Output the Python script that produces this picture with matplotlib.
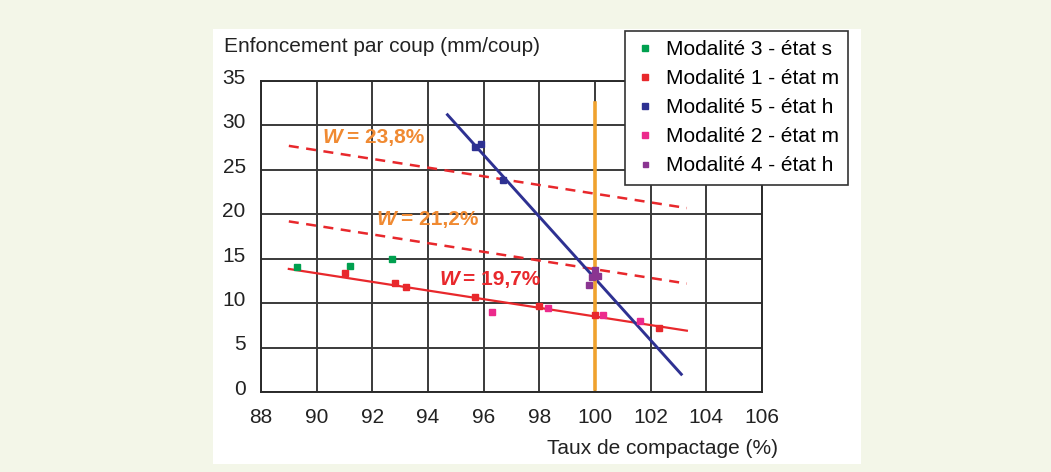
import matplotlib.pyplot as plt
from matplotlib.patches import Rectangle
from matplotlib.transforms import ScaledTranslation

plt.rcParams['font.family'] = ['Liberation Sans', 'DejaVu Sans']

# points (taux de compactage %, enfoncement mm/coup)
mod3_x = [89.3, 91.2, 92.7]
mod3_y = [14.1, 14.2, 15.0]
mod1_x = [91.0, 92.8, 93.2, 95.7, 98.0, 100.0, 102.3]
mod1_y = [13.4, 12.3, 11.8, 10.7, 9.7, 8.7, 7.2]
mod5_x = [95.7, 95.9, 96.7]
mod5_y = [27.6, 27.9, 23.9]
mod2_x = [96.3, 98.3, 100.3, 101.6]
mod2_y = [9.0, 9.4, 8.7, 8.0]
mod4_x = [99.8, 99.9, 100.1, 100.0]
mod4_y = [12.0, 12.9, 13.0, 13.7]

# trend lines (start/end)
fit_m_x, fit_m_y = [89.0, 103.3], [13.85, 6.9]
fit_h_x, fit_h_y = [94.7, 103.1], [31.2, 2.0]
w238_x, w238_y = [89.0, 103.3], [27.7, 20.7]
w212_x, w212_y = [89.0, 103.3], [19.2, 12.2]
ref_x, ref_y = [100.0, 100.0], [0.3, 32.5]

labels = ["Modalité 3 - état s", "Modalité 1 - état m", "Modalité 5 - état h",
          "Modalité 2 - état m", "Modalité 4 - état h"]
w_labels = [(90.2, 28.6, "23,8%"), (92.15, 19.4, "21,2%"), (94.4, 12.7, "19,7%")]

GREEN = "#00a04f"
RED = "#e8282c"
BLUE = "#2e3192"
PINK = "#ec2a8c"
PURPLE = "#8a3591"
ORANGE = "#f0a22e"
ORANGE_TXT = "#f08a32"

fig = plt.figure(figsize=(10.51, 4.72), dpi=100, facecolor="#f3f6e8")
fig.patches.append(Rectangle((213 / 1051, 1 - 463.5 / 472), 648 / 1051, 434.5 / 472,
                             transform=fig.transFigure, facecolor="white",
                             edgecolor="none", zorder=-10))

ax = fig.add_axes([261 / 1051, 80 / 472, 501 / 1051, 311 / 472])
ax.set_xlim(88, 106)
ax.set_ylim(0, 35)
ax.set_xticks(range(88, 107, 2))
ax.set_yticks(range(0, 36, 5))
ax.grid(True, color="#3a3a3a", linewidth=1.4)
ax.set_axisbelow(True)
for s in ax.spines.values():
    s.set_color("#2a2a2a")
    s.set_linewidth(1.4)
ax.tick_params(length=0, labelsize=15, colors="#222222")
ax.tick_params(axis="x", pad=11.5)
ax.tick_params(axis="y", pad=11)
# y labels sit a little above their gridline in the original
shift = ScaledTranslation(0, 3.3 / 72, fig.dpi_scale_trans)
for lbl in ax.get_yticklabels():
    lbl.set_transform(lbl.get_transform() + shift)

ax.plot(w238_x, w238_y, color=RED, lw=1.8, ls=(0, (4, 3)))
ax.plot(w212_x, w212_y, color=RED, lw=1.8, ls=(0, (4, 3)))
ax.plot(fit_m_x, fit_m_y, color=RED, lw=1.6)
ax.plot(fit_h_x, fit_h_y, color=BLUE, lw=2.1)
ax.plot(ref_x, ref_y, color=ORANGE, lw=2.6)

ms = 5
ax.plot(mod3_x, mod3_y, "s", color=GREEN, ms=ms, label=labels[0])
ax.plot(mod1_x, mod1_y, "s", color=RED, ms=ms, label=labels[1])
ax.plot(mod5_x, mod5_y, "s", color=BLUE, ms=ms, label=labels[2])
ax.plot(mod2_x, mod2_y, "s", color=PINK, ms=ms, label=labels[3])
ax.plot(mod4_x, mod4_y, "s", color=PURPLE, ms=4, label=labels[4])

for i, (x, y, t) in enumerate(w_labels):
    c = RED if i == 2 else ORANGE_TXT
    ax.text(x, y, "W", color=c, fontsize=15, fontweight="bold", style="italic",
            va="center")
    ax.annotate("= " + t, (x, y), xytext=(17.5, 0), textcoords="offset points",
                color=c, fontsize=15, fontweight="bold", va="center")

leg = ax.legend(loc="upper left", bbox_to_anchor=(625 / 1051, 1 - 31 / 472),
                bbox_transform=fig.transFigure, borderaxespad=0, fontsize=15,
                frameon=True, fancybox=False, framealpha=1, edgecolor="#333333",
                handlelength=1.0, handletextpad=0.5, labelspacing=0.48,
                borderpad=0.45, markerscale=0.9)
leg.get_frame().set_linewidth(1.2)
leg.set_zorder(10)

fig.text(224 / 1051, 1 - 47 / 472, "Enfoncement par coup (mm/coup)", fontsize=15,
         va="center", ha="left", color="#222222")
fig.text(778 / 1051, 1 - 448 / 472, "Taux de compactage (%)", fontsize=15,
         va="center", ha="right", color="#222222")

fig.savefig("out.png", dpi=100, facecolor=fig.get_facecolor())
